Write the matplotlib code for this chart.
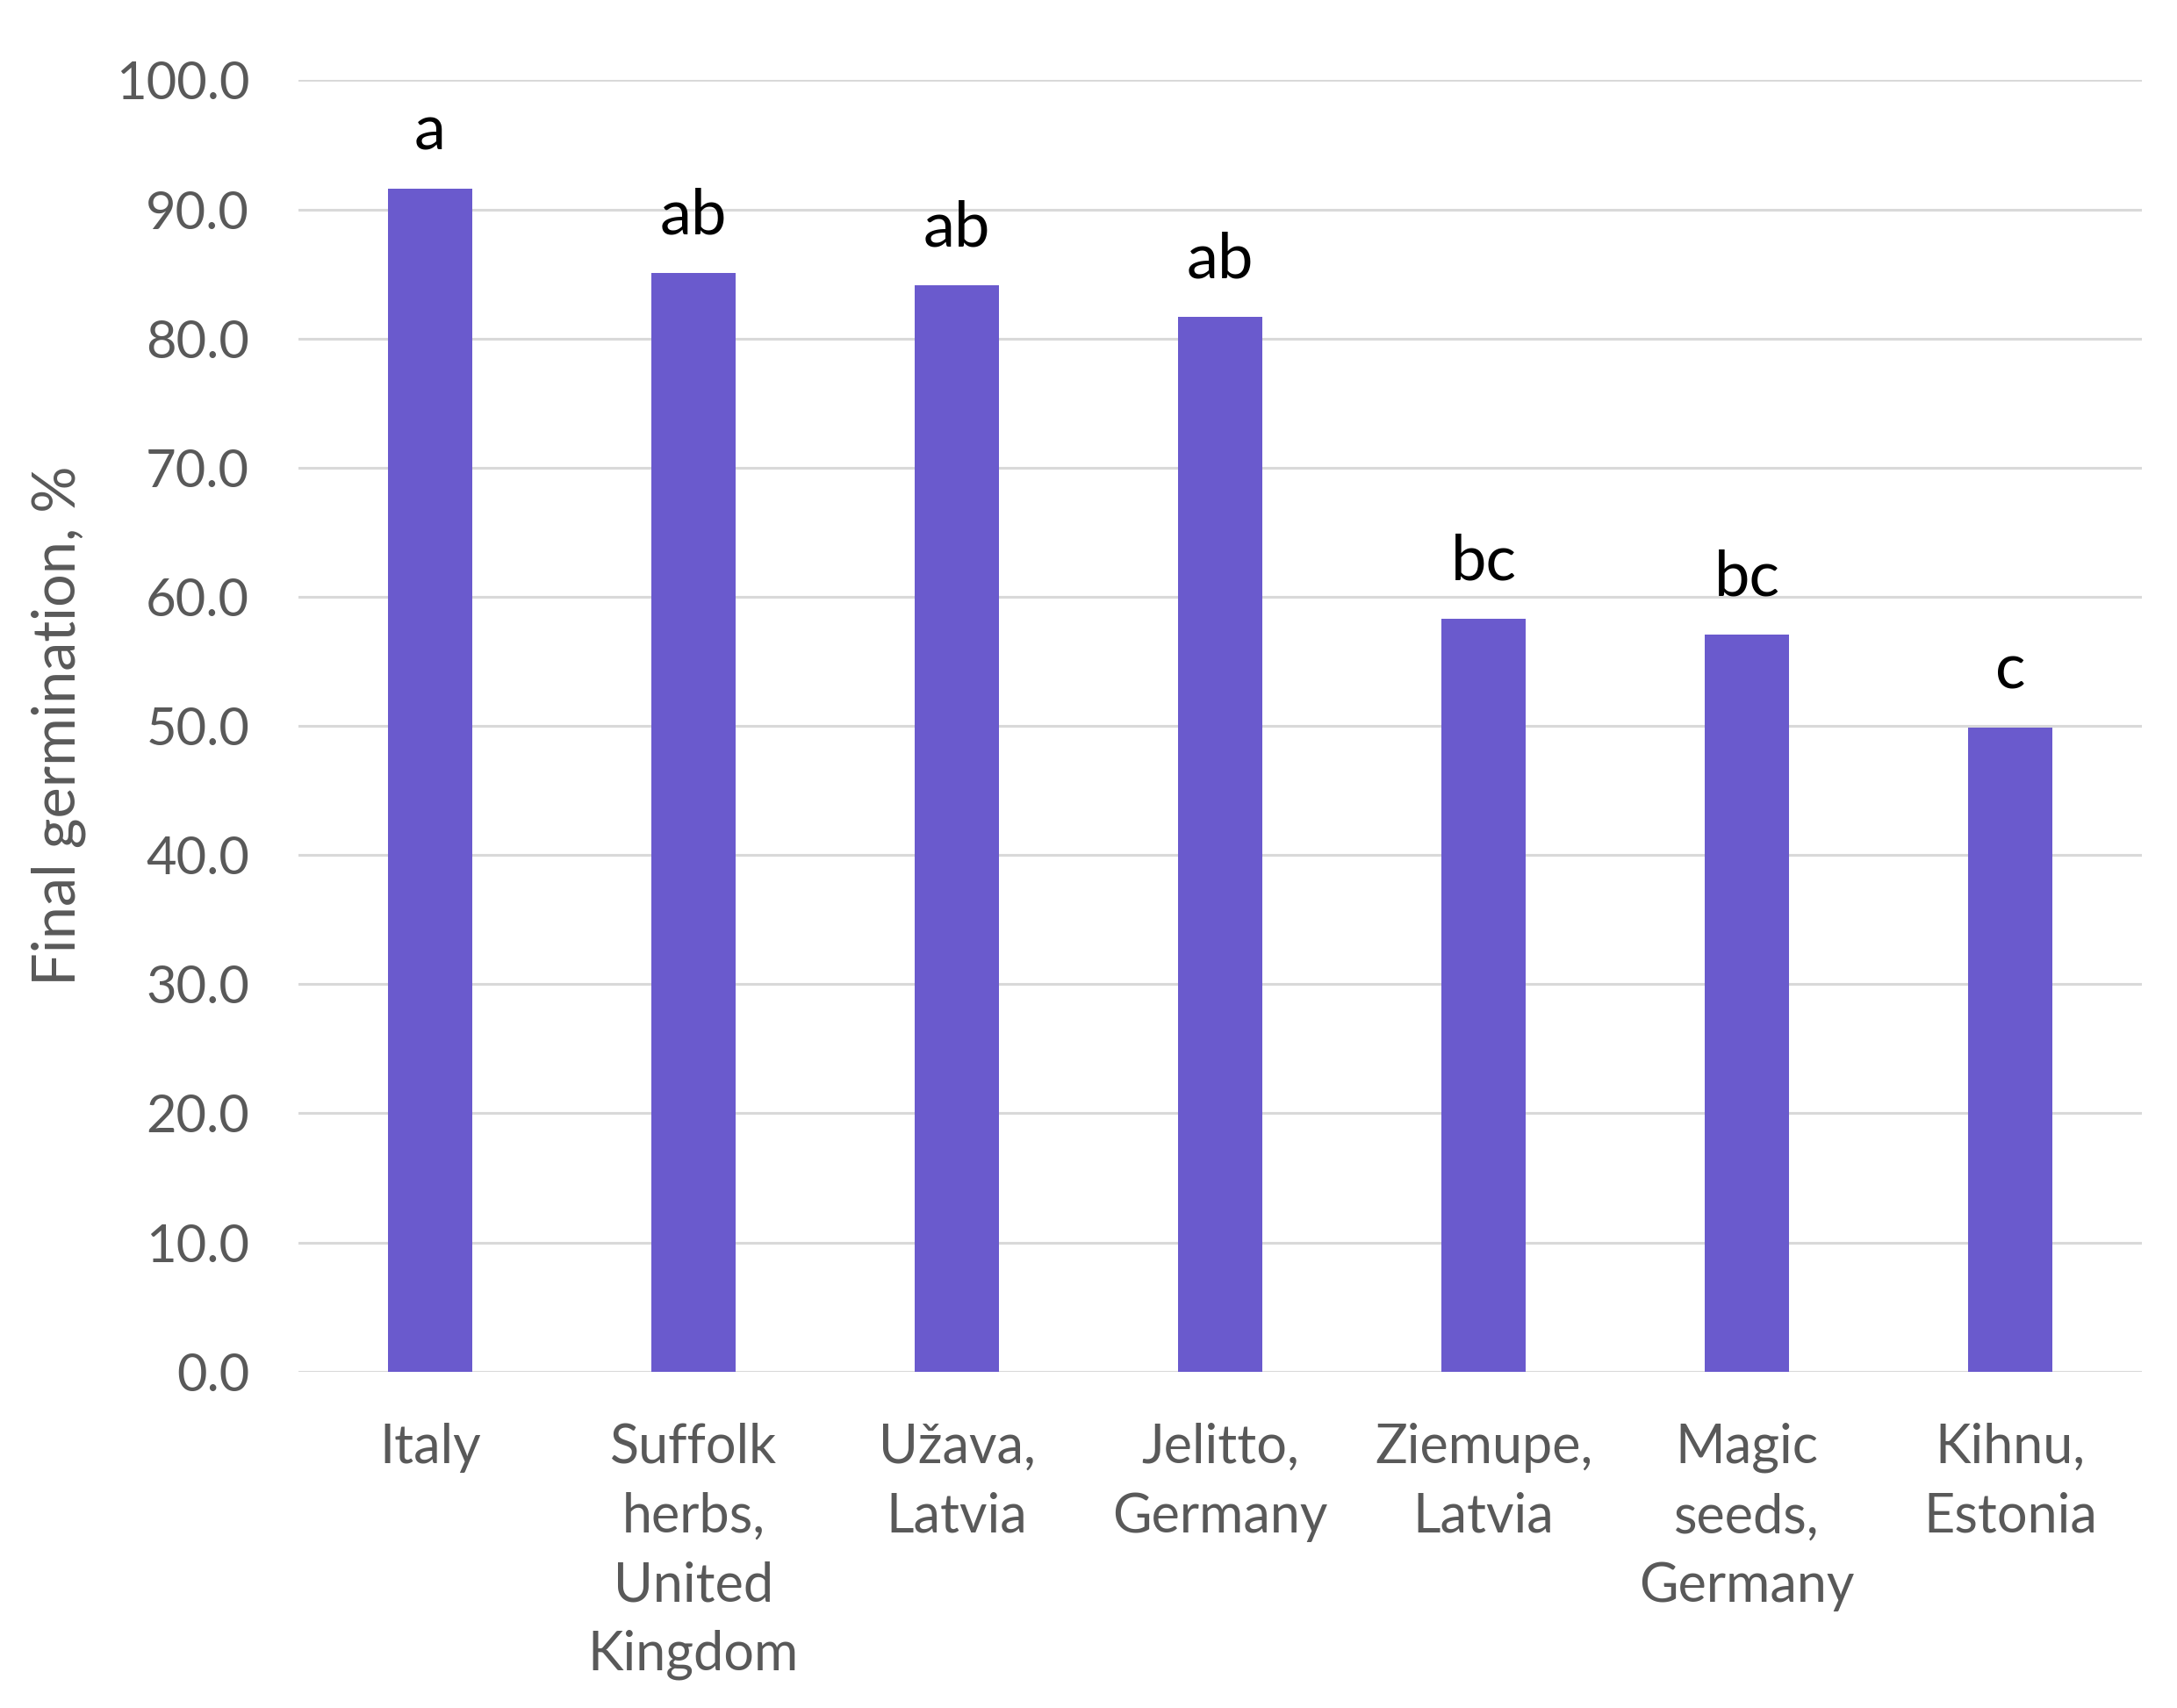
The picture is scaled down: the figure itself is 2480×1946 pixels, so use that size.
import matplotlib
matplotlib.use("Agg")
import matplotlib.pyplot as plt

categories = ["Italy", "Suffolk\nherbs,\nUnited\nKingdom", "Užava,\nLatvia", "Jelitto,\nGermany",
              "Ziemupe,\nLatvia", "Magic\nseeds,\nGermany", "Kihnu,\nEstonia"]
values = [91.6, 85.1, 84.1, 81.7, 58.3, 57.1, 49.9]
letters = ["a", "ab", "ab", "ab", "bc", "bc", "c"]
yticks = [0, 10, 20, 30, 40, 50, 60, 70, 80, 90, 100]

plt.rcParams['font.family'] = ['Lato', 'DejaVu Sans']

fig = plt.figure(figsize=(24.8, 19.46), dpi=100)
ax = fig.add_axes([0.137, 0.197, 0.847, 0.756])

x = list(range(len(categories)))
ax.bar(x, values, width=0.32, color="#6A5ACD", zorder=3)

for xi, v, lab in zip(x, values, letters):
    ax.annotate(lab, (xi, v), xytext=(0, 32), textcoords="offset points",
                ha="center", va="baseline", fontsize=52, color="black")

ax.set_xlim(-0.5, len(categories) - 0.5)
ax.set_ylim(0, 100)
ax.set_yticks(yticks)
ax.set_yticklabels([f"{t:.1f}" for t in yticks])
ax.set_xticks(x)
ax.set_xticklabels(categories, linespacing=1.47)
ax.yaxis.grid(True, color="#D9D9D9", linewidth=2.2, zorder=0)
ax.set_axisbelow(True)
for s in ax.spines.values():
    s.set_visible(False)
ax.tick_params(axis="both", length=0, colors="#595959")
ax.tick_params(axis="y", labelsize=43, pad=40)
ax.tick_params(axis="x", labelsize=44, pad=42)
ax.set_ylabel("Final germination, %", fontsize=48, color="#595959", labelpad=24)

fig.savefig("out.png", dpi=100)
